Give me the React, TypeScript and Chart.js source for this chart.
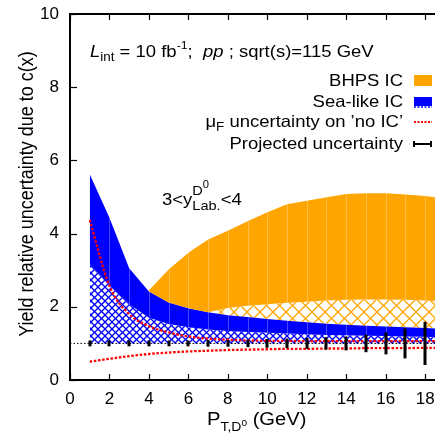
import React, { useEffect, useRef } from 'react';
import { Chart, registerables } from 'chart.js';

Chart.register(...registerables);

// ---------------- data ----------------
const bandPt = [1, 2, 3, 4, 5, 6, 7, 8, 9, 10, 11, 12, 13, 14, 15, 16, 17, 18, 18.5];
const seaUpper = [5.62, 4.43, 3.05, 2.42, 2.12, 1.96, 1.85, 1.77, 1.72, 1.67, 1.62, 1.58, 1.54, 1.51, 1.48, 1.46, 1.44, 1.42, 1.41];
const seaLower = [3.17, 2.58, 2.07, 1.7, 1.53, 1.44, 1.38, 1.34, 1.31, 1.29, 1.27, 1.25, 1.23, 1.22, 1.21, 1.2, 1.19, 1.18, 1.17];

const bhpsPt = [4, 5, 6, 7, 8, 9, 10, 11, 12, 13, 14, 15, 16, 17, 18, 18.5];
const bhpsUpper = [2.45, 3.02, 3.48, 3.84, 4.08, 4.34, 4.58, 4.8, 4.9, 4.99, 5.08, 5.1, 5.1, 5.07, 5.03, 4.99];
const bhpsLower = [2.42, 2.12, 1.96, 1.85, 1.97, 2.03, 2.07, 2.11, 2.14, 2.17, 2.19, 2.2, 2.2, 2.19, 2.17, 2.16];

const muFUpper = [4.37, 2.57, 1.8, 1.47, 1.3, 1.19, 1.13, 1.1, 1.08, 1.07, 1.07, 1.06, 1.06, 1.06, 1.06, 1.06, 1.06, 1.06, 1.06];
const muFLower = [0.5, 0.58, 0.65, 0.71, 0.75, 0.78, 0.8, 0.82, 0.83, 0.84, 0.85, 0.85, 0.86, 0.86, 0.87, 0.87, 0.87, 0.88, 0.88];

const projPt = [1, 2, 3, 4, 5, 6, 7, 8, 9, 10, 11, 12, 13, 14, 15, 16, 17, 18];
const projCentre = [1, 1, 1, 1, 1, 1, 1, 1, 1, 1, 1, 1, 1, 1, 1, 1, 1, 1];
const projErr = [0.08, 0.08, 0.08, 0.08, 0.08, 0.08, 0.09, 0.09, 0.1, 0.12, 0.13, 0.15, 0.17, 0.19, 0.24, 0.3, 0.41, 0.59];

const refPt = [0, 18.5];
const refVal = [1, 1];

const xTicks = { min: 0, max: 18.5, step: 2 };
const yTicks = { min: 0, max: 10, step: 2 };

// ---------------- styling ----------------
const FONT = "'Liberation Sans', Arial, Helvetica, sans-serif";
const SX = 1.12;
const ORANGE = '#ffa500';
const BLUE = '#0000ff';
const RED = '#ff0000';

type Seg = { t: string; s: number; dy?: number; it?: boolean };
const segFont = (g: Seg) => `${g.it ? 'italic ' : ''}${g.s}px ${FONT}`;

function richWidth(ctx: CanvasRenderingContext2D, segs: Seg[]) {
  let w = 0;
  for (const g of segs) {
    ctx.font = segFont(g);
    w += ctx.measureText(g.t).width;
  }
  return w;
}

function drawRich(
  ctx: CanvasRenderingContext2D,
  segs: Seg[],
  x: number,
  y: number,
  align: 'left' | 'right' | 'center',
  rotate = false
) {
  ctx.save();
  ctx.translate(x, y);
  ctx.scale(SX, 1);
  if (rotate) ctx.rotate(-Math.PI / 2);
  ctx.fillStyle = '#000';
  ctx.textBaseline = 'alphabetic';
  ctx.textAlign = 'left';
  const w = richWidth(ctx, segs);
  let cx = align === 'left' ? 0 : align === 'right' ? -w : -w / 2;
  for (const g of segs) {
    ctx.font = segFont(g);
    ctx.fillText(g.t, cx, g.dy ?? 0);
    cx += ctx.measureText(g.t).width;
  }
  ctx.restore();
  return w * SX;
}

function makeHatch(ctx: CanvasRenderingContext2D, size: number, color: string, lw: number) {
  const c = document.createElement('canvas');
  c.width = size;
  c.height = size;
  const g = c.getContext('2d')!;
  g.strokeStyle = color;
  g.lineWidth = lw;
  for (const o of [-size, 0, size]) {
    g.beginPath();
    g.moveTo(o, 0);
    g.lineTo(o + size, size);
    g.stroke();
    g.beginPath();
    g.moveTo(o, size);
    g.lineTo(o + size, 0);
    g.stroke();
  }
  return ctx.createPattern(c, 'repeat')!;
}

const xy = (xs: number[], ys: number[]) => xs.map((x, i) => ({ x, y: ys[i] }));

const decor = {
  id: 'decor',
  afterDatasetDraw(chart: any, args: any) {
    if (args.index !== 3) return;
    const { ctx, chartArea } = chart;
    const xs = chart.scales.x;
    const ys = chart.scales.y;
    ctx.save();
    ctx.beginPath();
    ctx.rect(chartArea.left, chartArea.top, chartArea.right - chartArea.left, chartArea.bottom - chartArea.top);
    ctx.clip();
    ctx.strokeStyle = 'rgba(255,255,255,0.28)';
    ctx.lineWidth = 1;
    bandPt.forEach((p, i) => {
      if (p % 1 !== 0 || i === 0) return;
      const px = Math.round(xs.getPixelForValue(p)) + 0.5;
      ctx.beginPath();
      ctx.moveTo(px, ys.getPixelForValue(seaLower[i]));
      ctx.lineTo(px, ys.getPixelForValue(seaUpper[i]));
      ctx.stroke();
    });
    bhpsPt.forEach((p, i) => {
      if (p % 1 !== 0 || i === 0) return;
      const px = Math.round(xs.getPixelForValue(p)) + 0.5;
      ctx.beginPath();
      ctx.moveTo(px, ys.getPixelForValue(bhpsLower[i]));
      ctx.lineTo(px, ys.getPixelForValue(bhpsUpper[i]));
      ctx.stroke();
    });
    ctx.restore();
  },
  afterDatasetsDraw(chart: any) {
    const { ctx } = chart;
    const xs = chart.scales.x;
    const ys = chart.scales.y;
    ctx.save();
    ctx.fillStyle = '#000';
    projPt.forEach((p, i) => {
      const px = xs.getPixelForValue(p);
      const top = ys.getPixelForValue(projCentre[i] + projErr[i]);
      const bot = ys.getPixelForValue(projCentre[i] - projErr[i]);
      ctx.fillRect(Math.round(px) - 1.5, top, 3, bot - top);
    });
    ctx.restore();
  },
  afterDraw(chart: any) {
    const { ctx, chartArea } = chart;
    const xs = chart.scales.x;
    const ys = chart.scales.y;
    ctx.save();
    // top frame
    ctx.strokeStyle = '#000';
    ctx.lineWidth = 2;
    ctx.beginPath();
    ctx.moveTo(chartArea.left - 1, chartArea.top);
    ctx.lineTo(chartArea.right, chartArea.top);
    ctx.stroke();
    // inward ticks
    ctx.lineWidth = 1.2;
    xs.ticks.forEach((t: any) => {
      const px = Math.round(xs.getPixelForValue(t.value)) + 0.5;
      ctx.beginPath();
      ctx.moveTo(px, chartArea.bottom);
      ctx.lineTo(px, chartArea.bottom - 6);
      ctx.moveTo(px, chartArea.top);
      ctx.lineTo(px, chartArea.top + 6);
      ctx.stroke();
    });
    ys.ticks.forEach((t: any) => {
      const py = Math.round(ys.getPixelForValue(t.value)) + 0.5;
      ctx.beginPath();
      ctx.moveTo(chartArea.left, py);
      ctx.lineTo(chartArea.left + 7, py);
      ctx.stroke();
    });
    ctx.restore();

    // header
    drawRich(
      ctx,
      [
        { t: 'L', s: 16.5, it: true },
        { t: 'int', s: 12, dy: 4 },
        { t: ' = 10 fb', s: 16.5 },
        { t: '-1', s: 11, dy: -8 },
        { t: ';  ', s: 16.5 },
        { t: 'pp', s: 16.5, it: true },
        { t: ' ; sqrt(s)=115 GeV', s: 16.5 },
      ],
      90,
      57,
      'left'
    );

    // legend
    const lx = 403;
    drawRich(ctx, [{ t: 'BHPS IC', s: 16.5 }], lx, 86, 'right');
    drawRich(ctx, [{ t: 'Sea-like IC', s: 16.5 }], lx, 107, 'right');
    drawRich(
      ctx,
      [
        { t: 'μ', s: 16.5 },
        { t: 'F', s: 12, dy: 4 },
        { t: ' uncertainty on ’no IC’', s: 16.5 },
      ],
      lx,
      127,
      'right'
    );
    drawRich(ctx, [{ t: 'Projected uncertainty', s: 16.5 }], lx, 149, 'right');
    ctx.save();
    ctx.fillStyle = ORANGE;
    ctx.fillRect(414, 75, 18, 11);
    ctx.fillStyle = BLUE;
    ctx.fillRect(414, 97, 18, 9);
    ctx.strokeStyle = BLUE;
    ctx.lineWidth = 1.5;
    ctx.setLineDash([2, 1.5]);
    ctx.beginPath();
    ctx.moveTo(414, 107);
    ctx.lineTo(432, 107);
    ctx.stroke();
    ctx.strokeStyle = RED;
    ctx.lineWidth = 2;
    ctx.setLineDash([2, 1.5]);
    ctx.beginPath();
    ctx.moveTo(414, 122);
    ctx.lineTo(432, 122);
    ctx.stroke();
    ctx.setLineDash([]);
    ctx.strokeStyle = '#000';
    ctx.lineWidth = 2;
    ctx.beginPath();
    ctx.moveTo(413, 144);
    ctx.lineTo(432, 144);
    ctx.moveTo(414, 141);
    ctx.lineTo(414, 147);
    ctx.moveTo(431, 141);
    ctx.lineTo(431, 147);
    ctx.stroke();
    ctx.restore();

    // rapidity label
    const x0 = 162;
    const w1 = drawRich(ctx, [{ t: '3<y', s: 16.5 }], x0, 205, 'left');
    const wD = drawRich(ctx, [{ t: 'D', s: 13 }], x0 + w1, 195, 'left');
    drawRich(ctx, [{ t: '0', s: 10 }], x0 + w1 + wD, 188, 'left');
    const wL = drawRich(ctx, [{ t: 'Lab.', s: 13 }], x0 + w1, 210, 'left');
    drawRich(ctx, [{ t: '<4', s: 16.5 }], x0 + w1 + wL, 205, 'left');

    // x title
    const tx = 207;
    const wP = drawRich(ctx, [{ t: 'P', s: 18 }], tx, 425, 'left');
    const wT = drawRich(ctx, [{ t: 'T,D', s: 12.5 }], tx + wP, 431, 'left');
    const w0 = drawRich(ctx, [{ t: '0', s: 9 }], tx + wP + wT, 426, 'left');
    drawRich(ctx, [{ t: ' (GeV)', s: 18 }], tx + wP + wT + w0, 425, 'left');

    // y title
    drawRich(ctx, [{ t: 'Yield relative uncertainty due to c(x)', s: 18 }], 33, 194, 'center', true);
  },
};

export default function App() {
  const ref = useRef<HTMLCanvasElement>(null);
  useEffect(() => {
    const canvas = ref.current!;
    const ctx = canvas.getContext('2d')!;
    const blueHatch = makeHatch(ctx, 7, BLUE, 1.3);
    const orangeHatch = makeHatch(ctx, 13, ORANGE, 1.3);
    const noPts = { pointRadius: 0, pointHoverRadius: 0 };
    const chart = new Chart(canvas, {
      type: 'line',
      data: {
        datasets: [
          {
            label: 'ref',
            data: xy(refPt, refVal),
            borderColor: '#000',
            borderWidth: 1,
            borderDash: [1.5, 2],
            fill: false,
            order: 0,
            ...noPts,
          },
          {
            label: 'muF up',
            data: xy(bandPt, muFUpper),
            borderColor: RED,
            borderWidth: 2.3,
            borderDash: [2.5, 1.7],
            cubicInterpolationMode: 'monotone',
            fill: false,
            order: 1,
            ...noPts,
          },
          {
            label: 'muF down',
            data: xy(bandPt, muFLower),
            borderColor: RED,
            borderWidth: 2.3,
            borderDash: [2.5, 1.7],
            cubicInterpolationMode: 'monotone',
            fill: false,
            order: 2,
            ...noPts,
          },
          {
            label: 'BHPS IC',
            data: xy(bhpsPt, bhpsUpper),
            borderWidth: 0,
            borderColor: 'rgba(0,0,0,0)',
            backgroundColor: ORANGE,
            fill: 4,
            order: 3,
            ...noPts,
          },
          {
            label: 'BHPS lower',
            data: xy(bhpsPt, bhpsLower),
            borderWidth: 0,
            borderColor: 'rgba(0,0,0,0)',
            backgroundColor: orangeHatch,
            fill: 5,
            order: 5,
            ...noPts,
          },
          {
            label: 'sea tail',
            data: xy(bhpsPt, seaUpper.slice(bandPt.indexOf(bhpsPt[0]))),
            borderWidth: 0,
            borderColor: 'rgba(0,0,0,0)',
            fill: false,
            order: 7,
            ...noPts,
          },
          {
            label: 'Sea-like IC',
            data: xy(bandPt, seaUpper),
            borderWidth: 0,
            borderColor: 'rgba(0,0,0,0)',
            backgroundColor: BLUE,
            fill: 7,
            order: 4,
            ...noPts,
          },
          {
            label: 'Sea lower',
            data: xy(bandPt, seaLower),
            borderWidth: 0,
            borderColor: 'rgba(0,0,0,0)',
            backgroundColor: blueHatch,
            fill: { value: 1 },
            order: 6,
            ...noPts,
          },
        ],
      },
      options: {
        animation: false,
        responsive: false,
        maintainAspectRatio: false,
        devicePixelRatio: 1,
        layout: { padding: { top: 14, left: 0, right: 0, bottom: 0 } },
        plugins: { legend: { display: false }, tooltip: { enabled: false } },
        scales: {
          x: {
            type: 'linear',
            min: xTicks.min,
            max: xTicks.max,
            grid: { display: false, drawTicks: false },
            border: { display: true, color: '#000', width: 2 },
            ticks: {
              stepSize: xTicks.step,
              includeBounds: false,
              color: '#000',
              font: { family: FONT, size: 17 },
              padding: 9,
              maxRotation: 0,
              autoSkip: false,
            },
            afterFit(s: any) {
              s.height = 58;
              s.paddingLeft = 0;
              s.paddingRight = 0;
            },
          },
          y: {
            type: 'linear',
            min: yTicks.min,
            max: yTicks.max,
            grid: { display: false, drawTicks: false },
            border: { display: true, color: '#000', width: 2 },
            ticks: {
              stepSize: yTicks.step,
              includeBounds: false,
              color: '#000',
              font: { family: FONT, size: 17 },
              padding: 11,
            },
            afterFit(s: any) {
              s.width = 70;
              s.paddingTop = 0;
              s.paddingBottom = 0;
            },
          },
        },
      } as any,
      plugins: [decor],
    });
    return () => chart.destroy();
  }, []);
  return (
    <div style={{ position: 'fixed', left: 0, top: 0, width: 435, height: 438, background: '#fff' }}>
      <canvas ref={ref} width={435} height={438} style={{ display: 'block' }} />
    </div>
  );
}
